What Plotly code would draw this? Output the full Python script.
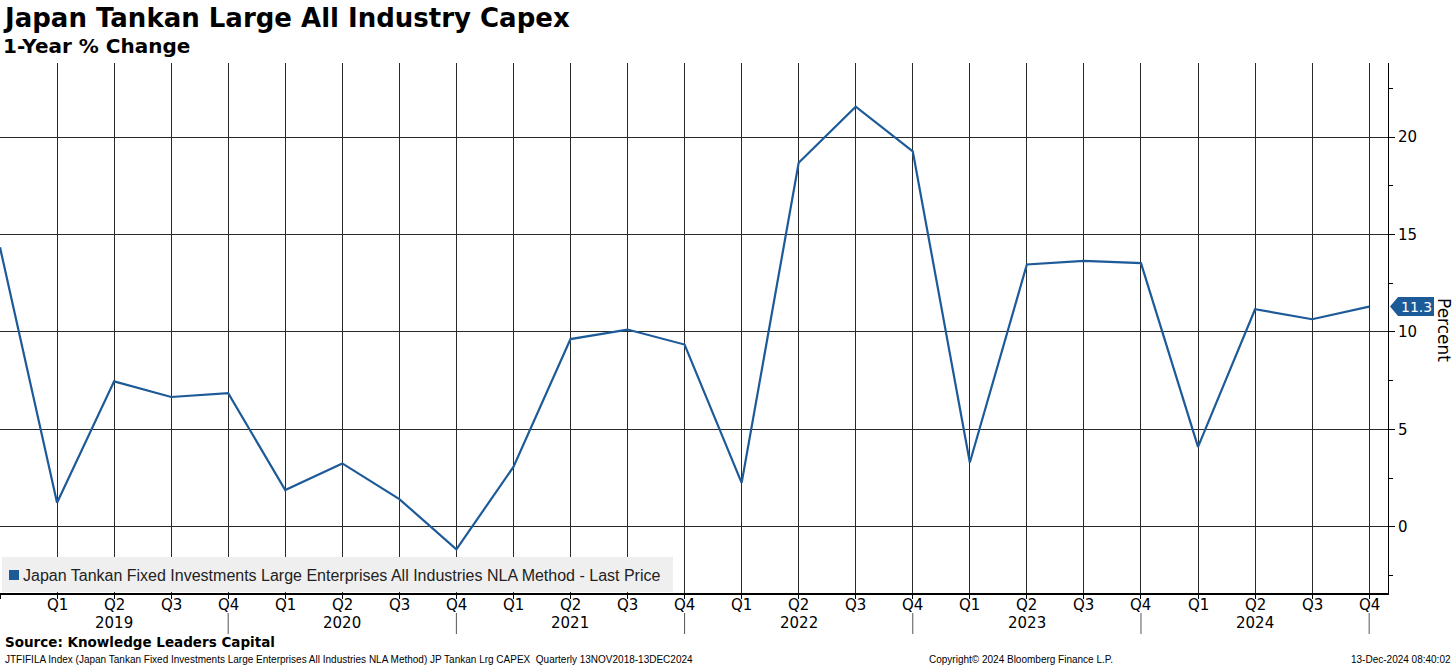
import plotly.graph_objects as go

# ---- data ----
quarter_labels = ["Q4",
                  "Q1", "Q2", "Q3", "Q4",
                  "Q1", "Q2", "Q3", "Q4",
                  "Q1", "Q2", "Q3", "Q4",
                  "Q1", "Q2", "Q3", "Q4",
                  "Q1", "Q2", "Q3", "Q4",
                  "Q1", "Q2", "Q3", "Q4"]
year_labels = ["2019", "2020", "2021", "2022", "2023", "2024"]
capex_yoy = [14.34,
             1.23, 7.46, 6.66, 6.86,
             1.88, 3.25, 1.42, -1.16,
             3.07, 9.63, 10.12, 9.35,
             2.25, 18.68, 21.56, 19.27,
             3.30, 13.46, 13.65, 13.53,
             4.10, 11.16, 10.65, 11.30]
y_ticks = [0, 5, 10, 15, 20]
last_label = "11.3"

# ---- layout geometry (pixels) ----
W, H = 1456, 666
L, R, T, B = 0, 68, 63, 73
PW, PH = W - L - R, H - T - B
BLUE = "#1d5a98"
GRID = "#2a2a2a"


def px(xp):
    return (xp - L) / PW


def py(yp):
    return (H - B - yp) / PH


x_idx = list(range(len(capex_yoy)))

fig = go.Figure()
fig.add_trace(go.Scatter(x=x_idx, y=capex_yoy, mode="lines",
                         line=dict(color=BLUE, width=2.2),
                         showlegend=False, hoverinfo="y"))

fig.update_layout(
    width=W, height=H,
    margin=dict(l=L, r=R, t=T, b=B),
    paper_bgcolor="white", plot_bgcolor="white",
    font=dict(family="DejaVu Sans", color="black"),
    xaxis=dict(range=[0, 24.33], tickvals=x_idx, showticklabels=False,
               showgrid=True, gridcolor=GRID, gridwidth=1,
               showline=True, linecolor="black", linewidth=1.5,
               ticks="outside", ticklen=4, tickcolor="black",
               zeroline=False, fixedrange=True),
    yaxis=dict(range=[-3.4, 23.8], side="right", tickvals=y_ticks,
               showgrid=True, gridcolor=GRID, gridwidth=1,
               showline=True, linecolor="black", linewidth=1,
               ticks="outside", ticklen=6, tickcolor="black",
               minor=dict(dtick=2.5, tick0=0, ticks="outside", ticklen=4,
                          tickcolor="black", showgrid=False),
               tickfont=dict(family="DejaVu Sans", size=15, color="black"),
               zeroline=False, fixedrange=True),
)

shapes = []
# year separators below the axis at each Q4
for i, q in enumerate(quarter_labels):
    if q == "Q4" and i > 0:
        shapes.append(dict(type="line", xref="x", yref="paper",
                           x0=i, x1=i, y0=py(613), y1=py(634),
                           line=dict(color="#555555", width=1)))
# legend box
shapes.append(dict(type="rect", xref="paper", yref="paper",
                   x0=px(2), x1=px(673), y0=py(592), y1=py(557),
                   fillcolor="#efefef", line=dict(width=0), layer="above"))
# legend swatch
shapes.append(dict(type="rect", xref="paper", yref="paper",
                   x0=px(9), x1=px(19), y0=py(580), y1=py(570),
                   fillcolor=BLUE, line=dict(width=0), layer="above"))
# last value flag
shapes.append(dict(type="path", xref="paper", yref="y",
                   xsizemode="pixel", ysizemode="pixel",
                   xanchor=1, yanchor=capex_yoy[-1],
                   path="M 2 0 L 10 9.5 L 46 9.5 L 46 -9.5 L 10 -9.5 Z",
                   fillcolor=BLUE, line=dict(width=0)))
fig.update_layout(shapes=shapes)

ann = []
# quarter labels
for i, q in enumerate(quarter_labels):
    if i == 0:
        continue
    ann.append(dict(text=q, xref="x", yref="paper", x=i, y=py(605),
                    showarrow=False, xanchor="center", yanchor="middle",
                    font=dict(family="DejaVu Sans", size=15, color="black")))
# year labels under Q2 of each year
for k, yl in enumerate(year_labels):
    ann.append(dict(text=yl, xref="x", yref="paper", x=2 + 4 * k, y=py(623),
                    showarrow=False, xanchor="center", yanchor="middle",
                    font=dict(family="DejaVu Sans", size=15, color="black")))
# legend text
ann.append(dict(text="Japan Tankan Fixed Investments Large Enterprises All Industries NLA Method - Last Price",
                xref="paper", yref="paper", x=px(21), y=py(575),
                xanchor="left", yanchor="middle", showarrow=False,
                font=dict(family="Liberation Sans", size=16, color="#222222")))
# last value text
ann.append(dict(text=last_label, xref="paper", yref="y", x=1, y=capex_yoy[-1],
                xshift=28, xanchor="center", yanchor="middle", showarrow=False,
                font=dict(family="DejaVu Sans", size=14, color="white")))
# axis title
ann.append(dict(text="Percent", xref="paper", yref="paper", x=1, y=py(330),
                xshift=56, xanchor="center", yanchor="middle", textangle=90,
                showarrow=False,
                font=dict(family="DejaVu Sans", size=17, color="black")))
# titles
ann.append(dict(text="<b>Japan Tankan Large All Industry Capex</b>",
                xref="paper", yref="paper", x=px(1), y=py(18),
                xanchor="left", yanchor="middle", showarrow=False,
                font=dict(family="DejaVu Sans", size=26, color="black")))
ann.append(dict(text="<b>1-Year % Change</b>",
                xref="paper", yref="paper", x=px(1), y=py(46),
                xanchor="left", yanchor="middle", showarrow=False,
                font=dict(family="DejaVu Sans", size=20, color="black")))
# footer
ann.append(dict(text="<b>Source: Knowledge Leaders Capital</b>",
                xref="paper", yref="paper", x=px(3), y=py(642),
                xanchor="left", yanchor="middle", showarrow=False,
                font=dict(family="DejaVu Sans", size=13.5, color="black")))
ann.append(dict(text="JTFIFILA Index (Japan Tankan Fixed Investments Large Enterprises All Industries NLA Method) JP Tankan Lrg CAPEX  Quarterly 13NOV2018-13DEC2024",
                xref="paper", yref="paper", x=px(3), y=py(659),
                xanchor="left", yanchor="middle", showarrow=False,
                font=dict(family="Liberation Sans", size=10, color="black")))
ann.append(dict(text="Copyright© 2024 Bloomberg Finance L.P.",
                xref="paper", yref="paper", x=px(1021), y=py(659),
                xanchor="center", yanchor="middle", showarrow=False,
                font=dict(family="Liberation Sans", size=10, color="black")))
ann.append(dict(text="13-Dec-2024 08:40:02",
                xref="paper", yref="paper", x=px(1453), y=py(659),
                xanchor="right", yanchor="middle", showarrow=False,
                font=dict(family="Liberation Sans", size=10, color="black")))
fig.update_layout(annotations=ann)

fig.write_html("out.html", config={"displayModeBar": False},
               post_script="document.body.style.margin='0px';document.body.style.overflow='hidden';")
